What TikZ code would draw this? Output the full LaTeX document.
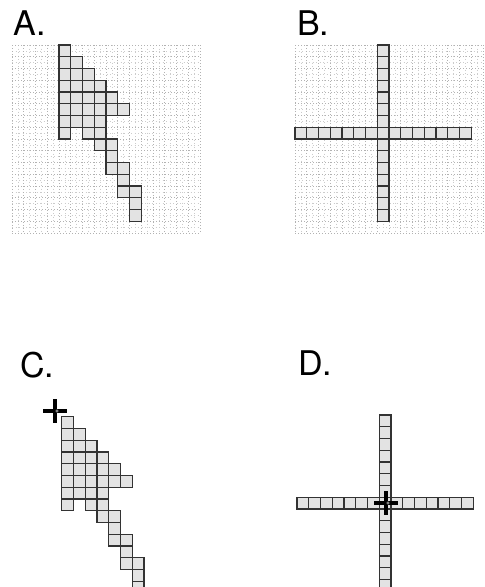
\documentclass[tikz,border=0pt]{standalone}
\usepackage{fontspec}
\newfontfamily\panelfont{TeX Gyre Heros}
\usepackage{tikz}
\usetikzlibrary{positioning}

\def\cellsz{11.75}
% pixel cells of the arrow-shaped pattern (column/row)
\def\arrowcells{0/0, 0/1,1/1, 0/2,1/2,2/2, 0/3,1/3,2/3,3/3,
  0/4,1/4,2/4,3/4,4/4, 0/5,1/5,2/5,3/5,4/5,5/5, 0/6,1/6,2/6,3/6,
  0/7,2/7,3/7, 3/8,4/8, 4/9, 4/10,5/10, 5/11, 5/12,6/12, 6/13, 6/14}

\begin{document}
\begin{tikzpicture}[x=1pt, y=-1pt,
  cellbox/.style={fill=gray!22, draw=black!80, line width=1.2pt},
  griddot/.style={gray!60, dash pattern=on 0.7pt off 2.3pt, line width=0.7pt},
  halfdot/.style={gray!40, dash pattern=on 0.6pt off 2.9pt, line width=0.6pt},
  panellabel/.style={font=\panelfont\fontsize{34}{40}\selectfont, anchor=base west, inner sep=0pt},
  crosshair/.style={line width=3.8pt, black}
]
  \clip (0,0) rectangle (485,587);
  \fill[white] (0,0) rectangle (485,587);

  % panel labels
  \node[panellabel] (labA) at (13,35)  {A.};
  \node[panellabel] (labB) at (297,35) {B.};
  \node[panellabel] (labC) at (20,377) {C.};
  \node[panellabel] (labD) at (298,375) {D.};

  % dotted background grids of A and B
  \foreach \gx/\gy in {12/45, 295/45} {
    \begin{scope}[shift={(\gx,\gy)}]
      \foreach \i in {0,...,15} {
        \draw[halfdot] ({(\i+0.5)*\cellsz},0) -- ({(\i+0.5)*\cellsz},16*\cellsz);
        \draw[halfdot] (0,{(\i+0.5)*\cellsz}) -- (16*\cellsz,{(\i+0.5)*\cellsz});
      }
      \foreach \i in {0,...,16} {
        \draw[griddot] (\i*\cellsz,0) -- (\i*\cellsz,16*\cellsz);
        \draw[griddot] (0,\i*\cellsz) -- (16*\cellsz,\i*\cellsz);
      }
    \end{scope}
  }

  % arrow patterns (A and C)
  \foreach \ox/\oy in {59/45, 61.7/416.7} {
    \begin{scope}[shift={(\ox,\oy)}]
      \foreach \c/\r in \arrowcells
        \draw[cellbox] (\c*\cellsz,\r*\cellsz) rectangle ++(\cellsz,\cellsz);
    \end{scope}
  }

  % cross patterns (B and D)
  \foreach \ox/\oy in {295/45, 297/415} {
    \begin{scope}[shift={(\ox,\oy)}]
      \foreach \k in {0,...,14} {
        \draw[cellbox] (7*\cellsz,\k*\cellsz) rectangle ++(\cellsz,\cellsz);
        \draw[cellbox] (\k*\cellsz,7*\cellsz) rectangle ++(\cellsz,\cellsz);
      }
    \end{scope}
  }

  % fixation crosses
  \coordinate (fixC) at (55,411);
  \coordinate (fixD) at (386,503);
  \foreach \p in {fixC, fixD} {
    \draw[crosshair] (\p) ++(-12,0) -- ++(24,0);
    \draw[crosshair] (\p) ++(0,-12) -- ++(0,24);
    \draw[gray!60, line width=0.6pt] (\p) ++(2,0) circle (1.3);
  }
\end{tikzpicture}
\end{document}
